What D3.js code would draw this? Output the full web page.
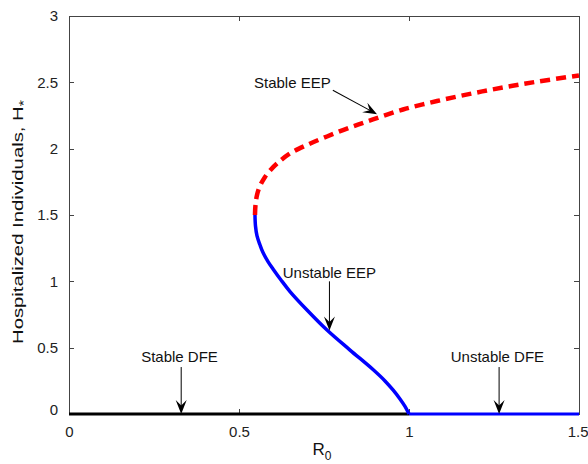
<!DOCTYPE html>
<html>
<head>
<meta charset="utf-8">
<script src="https://cdn.jsdelivr.net/npm/d3@7"></script>
<style>
  html, body { margin: 0; padding: 0; background: #fff; }
  svg { display: block; }
  text { font-family: "Liberation Sans", Arial, sans-serif; }
</style>
</head>
<body>
<svg id="chart" width="588" height="464"></svg>
<script>
// ---- data ----
const xTicks = [0, 0.5, 1, 1.5];
const yTicks = [0, 0.5, 1, 1.5, 2, 2.5, 3];
const xTickLabels = ["0", "0.5", "1", "1.5"];
const yTickLabels = ["0", "0.5", "1", "1.5", "2", "2.5", "3"];

// Unstable endemic equilibrium branch (blue, solid)
const r0UnstableEEP = [1.0, 0.9882, 0.9735, 0.9529, 0.9294, 0.8941, 0.8265, 0.7588, 0.70, 0.65, 0.6235, 0.60, 0.5853, 0.5706, 0.5618, 0.553, 0.5485, 0.547];
const hUnstableEEP  = [0.0, 0.057, 0.113, 0.181, 0.249, 0.335, 0.482, 0.633, 0.784, 0.923, 1.010, 1.093, 1.149, 1.217, 1.274, 1.342, 1.417, 1.50];

// Stable endemic equilibrium branch (red, dashed)
const r0StableEEP = [0.547, 0.5485, 0.553, 0.5618, 0.5765, 0.5941, 0.6118, 0.65, 0.70, 0.7588, 0.8265, 0.8941, 0.9824, 1.0824, 1.1794, 1.2765, 1.3765, 1.50];
const hStableEEP  = [1.50, 1.575, 1.651, 1.719, 1.787, 1.843, 1.888, 1.964, 2.028, 2.092, 2.160, 2.220, 2.295, 2.359, 2.413, 2.461, 2.505, 2.552];

// Disease-free equilibrium
const r0StableDFE = [0, 1];
const hStableDFE = [0, 0];
const r0UnstableDFE = [1, 1.5];
const hUnstableDFE = [0, 0];

// annotations: label, text anchor (R0,H), arrow from (R0,H) to (R0,H)
const annLabels = ["Stable EEP", "Unstable EEP", "Stable DFE", "Unstable DFE"];
const annTextR0 = [0.657, 0.766, 0.325, 1.26];
const annTextH  = [2.50, 1.07, 0.43, 0.43];
const annFromR0 = [0.776, 0.766, 0.330, 1.265];
const annFromH  = [2.44, 1.00, 0.354, 0.354];
const annToR0   = [0.906, 0.766, 0.330, 1.265];
const annToH    = [2.26, 0.63, 0.0, 0.0];

// ---- layout ----
const svg = d3.select("#chart");
const mLeft = 69, mRight = 579, mTop = 16, mBottom = 414;
const x = d3.scaleLinear().domain([0, 1.5]).range([mLeft, mRight]);
const y = d3.scaleLinear().domain([0, 3]).range([mBottom, mTop]);

// box
svg.append("rect")
  .attr("x", mLeft).attr("y", mTop)
  .attr("width", mRight - mLeft).attr("height", mBottom - mTop)
  .attr("fill", "none").attr("stroke", "#444").attr("stroke-width", 1)
  .attr("shape-rendering", "crispEdges");

// axes with inward ticks
const axB = d3.axisBottom(x).tickValues(xTicks).tickSize(-5).tickFormat((d, i) => xTickLabels[i]).tickPadding(12);
const axT = d3.axisTop(x).tickValues(xTicks).tickSize(-5).tickFormat("");
const axL = d3.axisLeft(y).tickValues(yTicks).tickSize(-5).tickFormat((d, i) => yTickLabels[i]).tickPadding(11);
const axR = d3.axisRight(y).tickValues(yTicks).tickSize(-5).tickFormat("");

function styleAxis(g) {
  g.select(".domain").remove();
  g.selectAll(".tick line").attr("stroke", "#444").attr("shape-rendering", "crispEdges");
  g.selectAll(".tick text").attr("fill", "#222").style("font-size", "15px")
    .style("font-family", "'Liberation Sans', Arial, sans-serif");
}
const gB = svg.append("g").attr("transform", `translate(0,${mBottom})`).call(axB).call(styleAxis);
svg.append("g").attr("transform", `translate(0,${mTop})`).call(axT).call(styleAxis);
const gL = svg.append("g").attr("transform", `translate(${mLeft},0)`).call(axL).call(styleAxis);
svg.append("g").attr("transform", `translate(${mRight},0)`).call(axR).call(styleAxis);
gL.selectAll(".tick text").filter(d => d === 0).attr("dy", "0.05em");
// last x label hugs the right edge of the window like the reference
gB.selectAll(".tick text").filter(d => d === 1.5).attr("text-anchor", "end").attr("dx", "9");

// lines
const line = d3.line().x(d => x(d[0])).y(d => y(d[1])).curve(d3.curveCatmullRom.alpha(0.5));
const straight = d3.line().x(d => x(d[0])).y(d => y(d[1]));
const zipPts = (a, b) => a.map((v, i) => [v, b[i]]);

svg.append("path").datum(zipPts(r0StableDFE, hStableDFE))
  .attr("d", straight)
  .attr("fill", "none").attr("stroke", "#000").attr("stroke-width", 3.2);
svg.append("path").datum(zipPts(r0UnstableDFE, hUnstableDFE))
  .attr("d", straight)
  .attr("fill", "none").attr("stroke", "#0000ff").attr("stroke-width", 3.2);
svg.append("path").datum(zipPts(r0UnstableEEP, hUnstableEEP))
  .attr("d", line)
  .attr("fill", "none").attr("stroke", "#0000ff").attr("stroke-width", 3.5);
svg.append("path").datum(zipPts(r0StableEEP, hStableEEP))
  .attr("d", line)
  .attr("fill", "none").attr("stroke", "#ff0000").attr("stroke-width", 4.5)
  .attr("stroke-dasharray", "10,6");

// annotations
annLabels.forEach((lab, i) => {
  svg.append("text")
    .attr("x", x(annTextR0[i])).attr("y", y(annTextH[i]))
    .attr("text-anchor", "middle").attr("dominant-baseline", "central")
    .style("font-size", "15px").attr("fill", "#111")
    .text(lab);
  const x0 = x(annFromR0[i]), y0 = y(annFromH[i]);
  const x1 = x(annToR0[i]), y1 = y(annToH[i]);
  const ang = Math.atan2(y1 - y0, x1 - x0);
  const L = 14, W = 11;
  const g = svg.append("g").attr("transform", `translate(${x1},${y1}) rotate(${ang * 180 / Math.PI})`);
  const len = Math.hypot(x1 - x0, y1 - y0);
  g.append("line").attr("x1", -len).attr("y1", 0).attr("x2", -L * 0.5).attr("y2", 0)
    .attr("stroke", "#000").attr("stroke-width", 1);
  g.append("path")
    .attr("d", `M0,0 L${-L},${-W / 2} L${-L * 0.6},0 L${-L},${W / 2} Z`)
    .attr("fill", "#000");
});

// axis titles
svg.append("text")
  .attr("transform", `translate(23,222) rotate(-90)`)
  .attr("text-anchor", "middle")
  .attr("textLength", 244).attr("lengthAdjust", "spacingAndGlyphs")
  .style("font-size", "15px").attr("fill", "#111")
  .html('Hospitalized Individuals, H<tspan dy="5" font-size="12">*</tspan>');
svg.append("text")
  .attr("x", 322).attr("y", 455)
  .attr("text-anchor", "middle")
  .style("font-size", "17px").attr("fill", "#111")
  .html('R<tspan dy="5" font-size="12">0</tspan>');
</script>
</body>
</html>
